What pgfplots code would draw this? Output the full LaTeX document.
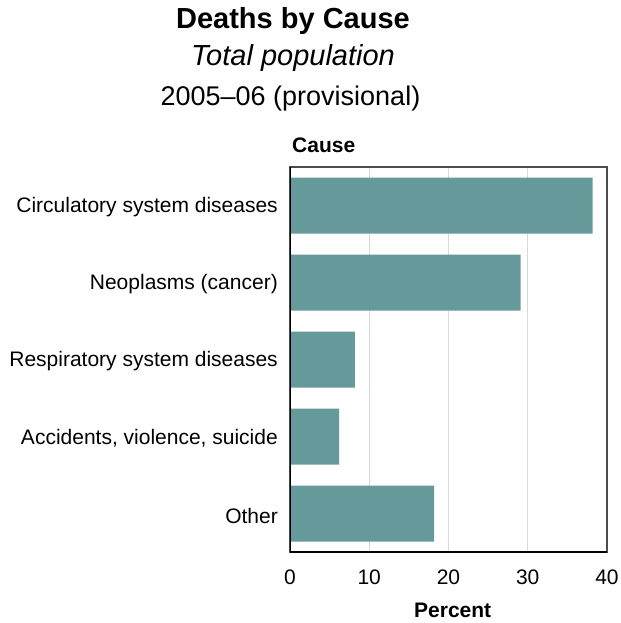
\documentclass[border=0pt]{standalone}
\usepackage{pgfplots}
\pgfplotsset{compat=1.18}
\usepackage{fontspec}
\setmainfont{Liberation Sans}
\definecolor{barteal}{HTML}{669999}
\definecolor{gridgray}{HTML}{D9D9D9}

\begin{document}
\begin{tikzpicture}
  \useasboundingbox (-290bp,-71bp) rectangle (331bp,552bp);
  \begin{axis}[
      at={(0bp,0bp)}, anchor=south west,
      scale only axis,
      width=317bp, height=385bp,
      xbar, bar width=56bp, bar shift=0pt,
      xmin=0, xmax=40, ymin=-0.5, ymax=4.5,
      xtick={0,10,20,30,40},
      ytick={0,1,2,3,4},
      yticklabels={Other, {Accidents, violence, suicide}, Respiratory system diseases, Neoplasms (cancer), Circulatory system diseases},
      major tick length=0pt,
      xmajorgrids, grid style={gridgray, line width=0.8bp},
      axis line style={draw=black!70, line width=1.2bp},
      /pgf/number format/assume math mode=true,
      tick label style={font=\fontsize{21bp}{25bp}\selectfont, inner sep=0pt},
      yticklabel style={anchor=east, xshift=-12bp, yshift=-2bp},
      xticklabel style={anchor=north, yshift=-18bp},
    ]
    \addplot[draw=none, fill=barteal] coordinates {
      (18.2,0)
      (6.2,1)
      (8.2,2)
      (29.1,3)
      (38.2,4)
    };
    \draw[black, line width=1.6bp] (rel axis cs:0,1) -- (rel axis cs:0,0) -- (rel axis cs:1,0);
  \end{axis}
  \node[anchor=base, inner sep=0pt, font=\fontsize{29bp}{34bp}\selectfont\bfseries] at (3bp,523bp) {Deaths by Cause};
  \node[anchor=base, inner sep=0pt, font=\fontsize{29bp}{34bp}\selectfont\itshape] at (3bp,486bp) {Total population};
  \node[anchor=base, inner sep=0pt, font=\fontsize{27bp}{32bp}\selectfont] at (0.5bp,446bp) {2005–06 (provisional)};
  \node[anchor=base west, inner sep=0pt, font=\fontsize{21bp}{25bp}\selectfont\bfseries] at (2bp,399bp) {Cause};
  \node[anchor=base, inner sep=0pt, font=\fontsize{21bp}{25bp}\selectfont\bfseries] at (162.7bp,-65.7bp) {Percent};
\end{tikzpicture}
\end{document}
